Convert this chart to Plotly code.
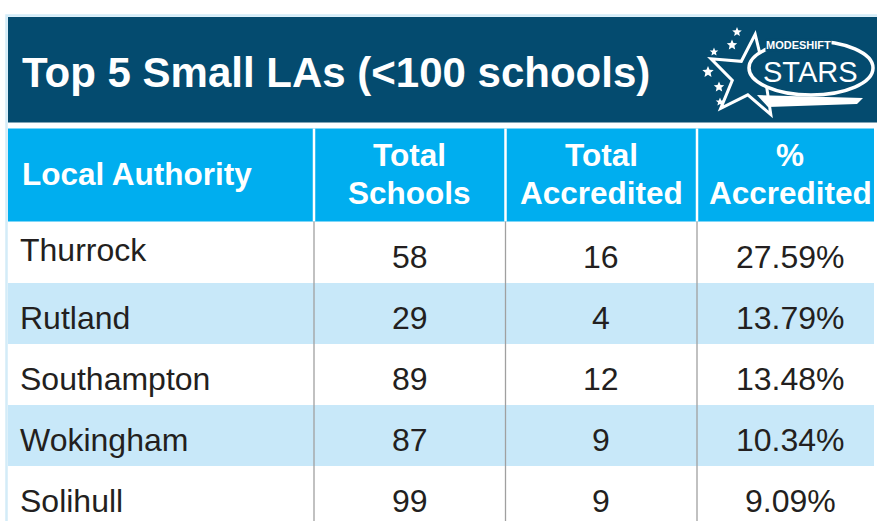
import math
import plotly.graph_objects as go

# ---------------- data ----------------
authorities = ["Thurrock", "Rutland", "Southampton", "Wokingham", "Solihull"]
total_schools = [58, 29, 89, 87, 99]
total_accredited = [16, 4, 12, 9, 9]
pct_accredited = [27.59, 13.79, 13.48, 10.34, 9.09]
header_labels = [["Local Authority"], ["Total", "Schools"], ["Total", "Accredited"], ["%", "Accredited"]]
title_text = "Top 5 Small LAs (<100 schools)"

# ---------------- style / layout ----------------
W, H = 877, 521
NAVY = "#044b6f"
CYAN = "#00aeef"
ROWBLUE = "#c8e8f9"
BORDER = "#d3ecf8"
GRID = "#a0a0a0"
INK = "#231f20"
FONT = "Liberation Sans, Arial, Helvetica, sans-serif"

col_edges = [8, 314, 505.5, 697, 874]
col_centers = [None, 409.5, 601, 790]
row_top, row_h = 222, 61
body_size, head_size, title_size = 32, 31.5, 42

shapes = []
annotations = []

# outer frame
shapes.append(dict(type="rect", x0=6.5, y0=15.5, x1=900, y1=560,
                   line=dict(color=BORDER, width=2.5), fillcolor="white", layer="below"))
# title bar
shapes.append(dict(type="rect", x0=8, y0=17, x1=900, y1=122.5, line=dict(width=0),
                   fillcolor=NAVY, layer="below"))
# header band
shapes.append(dict(type="rect", x0=8, y0=128.5, x1=col_edges[-1], y1=221.5, line=dict(width=0),
                   fillcolor=CYAN, layer="below"))
# body rows
for i in range(len(authorities)):
    shapes.append(dict(type="rect", x0=8, x1=col_edges[-1],
                       y0=row_top + i * row_h, y1=row_top + (i + 1) * row_h,
                       line=dict(width=0), fillcolor=ROWBLUE if i % 2 else "white", layer="below"))
# column dividers
for xe in col_edges[1:-1]:
    shapes.append(dict(type="line", x0=xe, x1=xe, y0=128.5, y1=221.5,
                       line=dict(color="white", width=2.5)))
    shapes.append(dict(type="line", x0=xe, x1=xe, y0=221.5, y1=H + 5,
                       line=dict(color=GRID, width=1.3)))


# ---------------- logo (decoration) ----------------
def star_path(cx, cy, R, r, rot):
    pts = []
    for k in range(10):
        ang = math.radians(-90 + rot + 36 * k)
        rad = R if k % 2 == 0 else r
        pts.append((cx + rad * math.cos(ang), cy + rad * math.sin(ang)))
    return "M " + " L ".join(f"{x:.1f},{y:.1f}" for x, y in pts) + " Z"


shapes.append(dict(type="path", path=star_path(750, 77, 43, 18, 7),
                   line=dict(color="white", width=3), fillcolor=NAVY))
shapes.append(dict(type="circle", x0=749, y0=41, x1=873, y1=95,
                   line=dict(color="white", width=3.5), fillcolor=NAVY))
shapes.append(dict(type="path", path="M 757,95 L 863,98 L 857,104 L 768,107 Z",
                   line=dict(width=0), fillcolor="white"))
for sx, sy, sr in [(737, 32, 5), (732, 45, 5.5), (714, 52, 4.5), (708, 72, 6), (719, 87, 5.5), (720, 102, 4.5)]:
    shapes.append(dict(type="path", path=star_path(sx, sy, sr, sr * 0.45, 0),
                       line=dict(width=0), fillcolor="white"))
annotations.append(dict(x=810, y=72, text="STARS", showarrow=False, xanchor="center", yanchor="middle",
                        font=dict(family=FONT, size=29, color="white")))
annotations.append(dict(x=798, y=45, text="<b>MODESHIFT</b>", showarrow=False, xanchor="center",
                        yanchor="middle", bgcolor=NAVY, borderpad=0,
                        font=dict(family=FONT, size=11, color="white")))

# ---------------- title ----------------
annotations.append(dict(x=20, y=72.5, text=f"<b>{title_text}</b>", showarrow=False,
                        xanchor="left", yanchor="middle",
                        font=dict(family=FONT, size=title_size, color="white")))

# ---------------- header ----------------
for c, lines in enumerate(header_labels):
    ys = [173.5] if len(lines) == 1 else [154.5, 192.5]
    for txt, yy in zip(lines, ys):
        if c == 0:
            annotations.append(dict(x=20, y=yy, text=f"<b>{txt}</b>", showarrow=False,
                                    xanchor="left", yanchor="middle",
                                    font=dict(family=FONT, size=head_size, color="white")))
        else:
            annotations.append(dict(x=col_centers[c], y=yy, text=f"<b>{txt}</b>", showarrow=False,
                                    xanchor="center", yanchor="middle",
                                    font=dict(family=FONT, size=head_size, color="white")))

# ---------------- body ----------------
for i, name in enumerate(authorities):
    yc = row_top + 35 + i * row_h
    name_y = yc - 7 if i == 0 else yc
    annotations.append(dict(x=18, y=name_y, text=name, showarrow=False, xanchor="left", yanchor="middle",
                            font=dict(family=FONT, size=body_size, color=INK)))
    vals = [str(total_schools[i]), str(total_accredited[i]), f"{pct_accredited[i]:.2f}%"]
    for c, v in enumerate(vals, start=1):
        annotations.append(dict(x=col_centers[c], y=yc, text=v, showarrow=False,
                                xanchor="center", yanchor="middle",
                                font=dict(family=FONT, size=body_size, color=INK)))

fig = go.Figure()
fig.update_layout(
    width=W, height=H, margin=dict(l=0, r=0, t=0, b=0),
    paper_bgcolor="white", plot_bgcolor="white",
    xaxis=dict(range=[0, W], visible=False, fixedrange=True),
    yaxis=dict(range=[H, 0], visible=False, fixedrange=True),
    shapes=shapes, annotations=annotations, showlegend=False,
)
fig.write_html("out.html", config={"displayModeBar": False},
               post_script="document.body.style.margin='0';document.body.style.overflow='hidden';")
